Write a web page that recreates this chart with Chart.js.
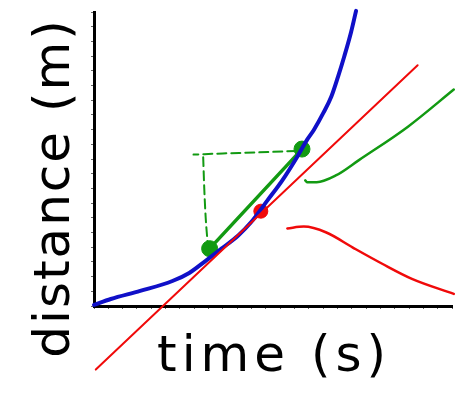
<!DOCTYPE html>
<html>
<head>
<meta charset="utf-8">
<script src="https://cdn.jsdelivr.net/npm/chart.js@4"></script>
<style>
  html, body { margin: 0; padding: 0; background: #fff; }
  #wrap { width: 461px; height: 393px; }
</style>
</head>
<body>
<div id="wrap"><canvas id="sketch"></canvas></div>
<script>
// Axis labels
const xLabel = 'time (s)';
const yLabel = 'distance (m)';

// Position-time curve (blue)
const curveX = [0, 0.47, 1.29, 2.19, 2.66, 3.12, 3.56, 4.03, 4.38, 4.85, 5.26, 5.67, 5.95, 6.14, 6.41, 6.63, 6.82, 6.99, 7.18, 7.32];
const curveY = [0.03, 0.19, 0.41, 0.68, 0.90, 1.23, 1.56, 1.92, 2.27, 2.88, 3.42, 4.05, 4.52, 4.79, 5.26, 5.70, 6.25, 6.79, 7.45, 8.03];

// Tangent line (red) and its touching point
const tangentX = [0.05, 9.04];
const tangentY = [-1.73, 6.55];
const tangentPointX = [4.66];
const tangentPointY = [2.58];

// Secant (green) between two points on the curve
const secantX = [3.23, 5.81];
const secantY = [1.56, 4.27];

// Dashed rise / run of the secant
const runX = [5.65, 4.6, 3.6, 2.78];
const runY = [4.22, 4.18, 4.15, 4.12];
const riseX = [3.05, 3.08, 3.12, 3.18];
const riseY = [4.05, 3.2, 2.4, 1.65];

// Pointer strokes (green to the secant, red to the tangent)
const greenNoteX = [5.90, 5.95, 6.22, 6.77, 7.40, 8.77, 10.05];
const greenNoteY = [3.42, 3.37, 3.37, 3.56, 3.97, 4.88, 5.89];
const redNoteX = [5.40, 5.86, 6.49, 7.23, 8.05, 8.88, 10.05];
const redNoteY = [2.11, 2.16, 2.00, 1.59, 1.15, 0.74, 0.33];

const zip = (xs, ys) => xs.map((x, i) => ({ x: x, y: ys[i] }));

const BLUE = '#1010c8';
const RED = '#f00a0a';
const GREEN = '#129a12';

const lineSet = (xs, ys, color, width, smooth, dash) => ({
    data: zip(xs, ys),
    showLine: true,
    borderColor: color,
    borderWidth: width,
    borderDash: dash || [],
    borderCapStyle: 'round',
    borderJoinStyle: 'round',
    cubicInterpolationMode: smooth ? 'monotone' : 'default',
    tension: smooth ? 0.4 : 0,
    pointRadius: 0,
    clip: false
});

const dotSet = (xs, ys, color, r) => ({
    data: zip(xs, ys),
    showLine: false,
    backgroundColor: color,
    borderColor: color,
    pointRadius: r,
    pointHoverRadius: r,
    clip: false
});

// Hand-lettered axis labels
const labelPlugin = {
    id: 'labels',
    afterDraw(chart) {
        const ctx = chart.ctx;
        ctx.save();
        ctx.fillStyle = '#000';
        ctx.font = '50px "DejaVu Sans"';
        ctx.textAlign = 'center';
        ctx.textBaseline = 'alphabetic';
        ctx.letterSpacing = '5px';
        ctx.fillText(xLabel, 274, 371);
        ctx.letterSpacing = '2px';
        ctx.translate(69, 188);
        ctx.rotate(-Math.PI / 2);
        ctx.fillText(yLabel, 0, 0);
        ctx.restore();
    }
};

const axis = (max, size, horizontal) => ({
    type: 'linear',
    min: 0,
    max: max,
    ticks: { display: false, stepSize: 0.4, maxTicksLimit: 100, autoSkip: false },
    grid: { drawOnChartArea: false, drawTicks: true, tickLength: 3, tickColor: '#666', lineWidth: 1 },
    border: { display: true, color: '#000', width: 3 },
    afterFit(scale) {
        if (horizontal) scale.height = size; else scale.width = size;
    }
});

new Chart(document.getElementById('sketch').getContext('2d'), {
    type: 'scatter',
    data: {
        datasets: [
            lineSet(redNoteX, redNoteY, RED, 2.5, true),
            lineSet(greenNoteX, greenNoteY, GREEN, 2.5, true),
            lineSet(runX, runY, GREEN, 2, true, [9, 5]),
            lineSet(riseX, riseY, GREEN, 2, true, [9, 5]),
            lineSet(tangentX, tangentY, RED, 2, false),
            lineSet(curveX, curveY, BLUE, 4, true),
            lineSet(secantX, secantY, GREEN, 3.5, false),
            dotSet(tangentPointX, tangentPointY, RED, 7),
            dotSet(secantX, secantY, GREEN, 8)
        ]
    },
    options: {
        responsive: true,
        maintainAspectRatio: false,
        animation: false,
        layout: { padding: { top: 12, right: 3, left: 0, bottom: 0 } },
        plugins: { legend: { display: false }, tooltip: { enabled: false } },
        scales: {
            x: axis(10, 87, true),
            y: axis(8, 94, false)
        }
    },
    plugins: [labelPlugin]
});
</script>
</body>
</html>
